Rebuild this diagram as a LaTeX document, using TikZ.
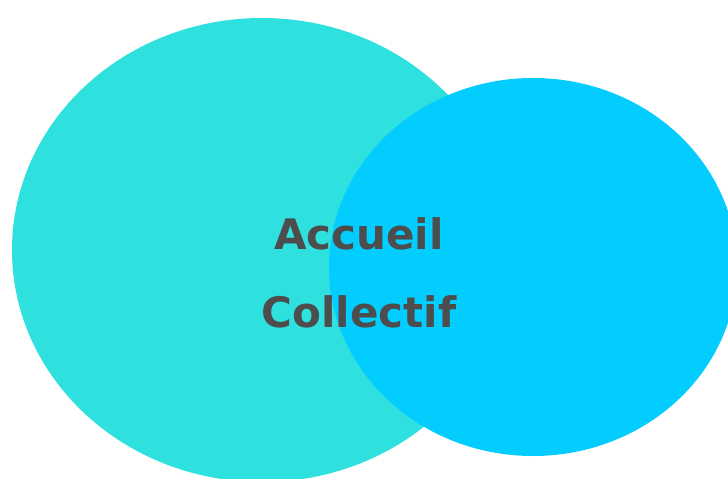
\documentclass[tikz,border=0pt]{standalone}
\usepackage{fontspec}
\setmainfont{DejaVu Sans}
\definecolor{turquoise}{HTML}{2EE0DE}
\definecolor{skyblue}{HTML}{03CDFF}
\definecolor{textgray}{HTML}{4D4D4D}
\begin{document}
\begin{tikzpicture}[x=1pt, y=-1pt,
	label/.style={anchor=base, inner sep=0pt, text=textgray, font=\fontsize{42}{50}\selectfont\bfseries}]
				% Fix the page size
				\useasboundingbox (0,0) rectangle (728,479);
				\clip (0,0) rectangle (728,479);
				
				% Draw the two ellipses
				\fill[turquoise] (262,250) ellipse [x radius=250, y radius=232];
				\fill[skyblue] (533,267) ellipse [x radius=204, y radius=189];
				
				% Write the title
				\node[label] (accueil) at (359,249) {Accueil};
				\node[label] (collectif) at (359,327) {Collectif};
			\end{tikzpicture}
\end{document}
